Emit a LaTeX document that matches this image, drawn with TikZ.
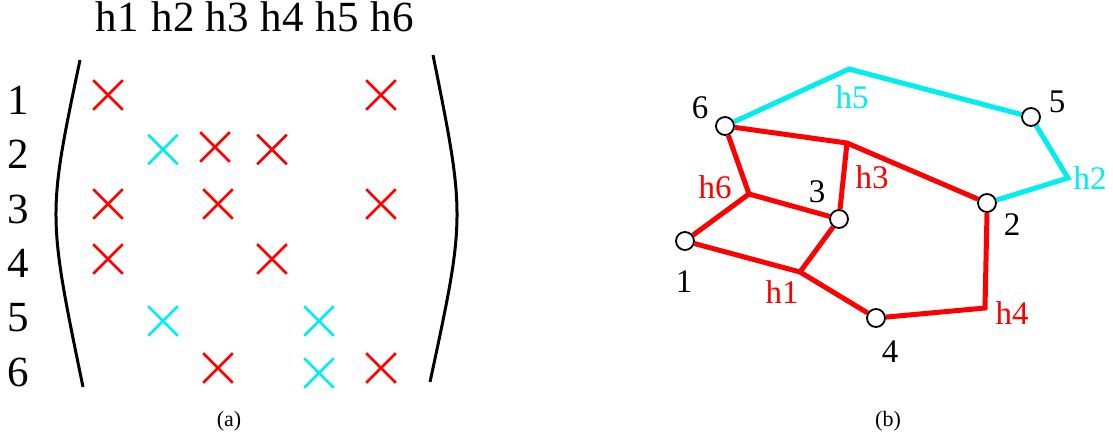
\documentclass[tikz,border=0pt]{standalone}
\usepackage{fontspec}
\setmainfont{Liberation Serif}
\usetikzlibrary{shapes.misc,backgrounds}
\definecolor{cy}{RGB}{0,238,238}
\definecolor{rd}{RGB}{255,0,0}
\begin{document}
\begin{tikzpicture}[x=1pt,y=-1pt,
  big/.style={inner sep=0pt,font=\fontsize{43}{43}\selectfont},
  lab/.style={inner sep=0pt,font=\fontsize{33}{33}\selectfont},
  captxt/.style={inner sep=0pt,font=\fontsize{22}{22}\selectfont},
  xm/.style={cross out,draw,line width=2.6pt,minimum size=27pt,inner sep=0pt},
  rx/.style={xm,draw=rd},
  cx/.style={xm,draw=cy},
  paren/.style={line width=3pt,black},
  vtx/.style={circle,draw,fill=white,line width=1.8pt,minimum size=18pt,inner sep=0pt},
  red edge/.style={draw=rd,line width=5pt},
  cyan edge/.style={draw=cy,line width=5pt}]
\useasboundingbox (0,0) rectangle (1113,440);
% ---- (a) matrix ----
\foreach \t/\x in {h1/117,h2/173,h3/227,h4/282,h5/337,h6/392}
  \node[big] (col\t) at (\x,17) {\t};
\foreach \t/\y in {1/100,2/154,3/209,4/263,5/318,6/372}
  \node[big] (row\t) at (18,\y) {\t};
\coordinate (lpa) at (80,60);
\coordinate (lpb) at (83,387);
\coordinate (rpa) at (433,55);
\coordinate (rpb) at (430,382);
\draw[paren] (lpa) .. controls (47.5,214.8) .. (lpb);
\draw[paren] (rpa) .. controls (465.5,216.5) .. (rpb);
\node[rx] (m11) at (108,95) {};
\node[rx] (m16) at (381,95) {};
\node[cx] (m22) at (163,149.5) {};
\node[rx] (m23) at (215,147) {};
\node[rx] (m24) at (272,149.5) {};
\node[rx] (m31) at (108,204) {};
\node[rx] (m33) at (218,204) {};
\node[rx] (m36) at (381,204) {};
\node[rx] (m41) at (108,259) {};
\node[rx] (m44) at (272,259) {};
\node[cx] (m52) at (163,321) {};
\node[cx] (m55) at (319,321) {};
\node[rx] (m63) at (218,368) {};
\node[cx] (m65) at (319,373) {};
\node[rx] (m66) at (381,368) {};
\node[captxt] (capa) at (229,421) {(a)};
% ---- (b) graph ----
\coordinate (j5) at (849,69);
\coordinate (j2) at (1068,178);
\coordinate (j3) at (847,143);
\coordinate (j6) at (749,194);
\coordinate (j1) at (800,272);
\coordinate (j4) at (985,308);
\node[vtx] (v6) at (725,126) {};
\node[vtx] (v5) at (1031,117) {};
\node[vtx] (v2) at (987,203) {};
\node[vtx] (v3) at (839,219) {};
\node[vtx] (v1) at (685,241) {};
\node[vtx] (v4) at (876,318) {};
\begin{pgfonlayer}{background}
\draw[cyan edge,line join=miter] (v6) -- (j5) -- (v5);
\draw[cyan edge,line join=miter] (v5) -- (j2) -- (v2);
\draw[red edge] (v6) -- (j3) -- (v2);
\draw[red edge] (j3) -- (v3);
\draw[red edge] (v6) -- (j6) -- (v1);
\draw[red edge] (j6) -- (v3);
\draw[red edge] (v1) -- (j1) -- (v4);
\draw[red edge] (j1) -- (v3);
\draw[red edge] (v2.south) -- (j4) -- (v4);
\end{pgfonlayer}
\node[lab,text=cy] (lh5) at (852,97) {h5};
\node[lab,text=cy] (lh2) at (1090,178) {h2};
\node[lab,text=rd] (lh3) at (872,177) {h3};
\node[lab,text=rd] (lh6) at (715,187) {h6};
\node[lab,text=rd] (lh1) at (782,292) {h1};
\node[lab,text=rd] (lh4) at (1012,313) {h4};
\node[lab] (n6) at (700,108) {6};
\node[lab] (n5) at (1057,102) {5};
\node[lab] (n3) at (817,192) {3};
\node[lab] (n2) at (1012,225) {2};
\node[lab] (n1) at (684,282) {1};
\node[lab] (n4) at (890,352) {4};
\node[captxt] (capb) at (888,421) {(b)};
\end{tikzpicture}
\end{document}
